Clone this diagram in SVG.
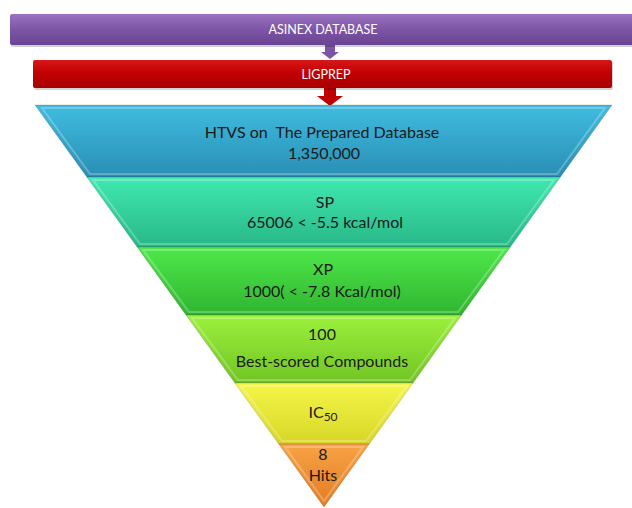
<svg xmlns="http://www.w3.org/2000/svg" width="632" height="508" viewBox="0 0 632 508">
<defs>
<linearGradient id="gPurple" x1="0" y1="0" x2="0" y2="1"><stop offset="0" stop-color="#9a72c0"/><stop offset="0.5" stop-color="#7d55a6"/><stop offset="1" stop-color="#6a4392"/></linearGradient>
<linearGradient id="gRed" x1="0" y1="0" x2="0" y2="1"><stop offset="0" stop-color="#d81818"/><stop offset="0.5" stop-color="#c00000"/><stop offset="1" stop-color="#a80000"/></linearGradient>
<linearGradient id="gBlue" x1="0" y1="0" x2="0" y2="1"><stop offset="0" stop-color="#3fbce0"/><stop offset="1" stop-color="#2a8eb4"/></linearGradient>
<linearGradient id="gTeal" x1="0" y1="0" x2="0" y2="1"><stop offset="0" stop-color="#40e8b0"/><stop offset="1" stop-color="#28b888"/></linearGradient>
<linearGradient id="gGreen" x1="0" y1="0" x2="0" y2="1"><stop offset="0" stop-color="#4ee84a"/><stop offset="1" stop-color="#30b530"/></linearGradient>
<linearGradient id="gLime" x1="0" y1="0" x2="0" y2="1"><stop offset="0" stop-color="#9cf03c"/><stop offset="1" stop-color="#72c424"/></linearGradient>
<linearGradient id="gYellow" x1="0" y1="0" x2="0" y2="1"><stop offset="0" stop-color="#f6f64a"/><stop offset="1" stop-color="#d6d626"/></linearGradient>
<linearGradient id="gOrange" x1="0" y1="0" x2="0" y2="1"><stop offset="0" stop-color="#f8a246"/><stop offset="1" stop-color="#e27c22"/></linearGradient>
</defs>
<style>
.lbl{font-family:Lato,"Liberation Sans",sans-serif;font-size:16px;fill:#1a1a1a;text-anchor:middle;white-space:pre}
.wlbl{font-family:Lato,"Liberation Sans",sans-serif;font-size:12.5px;fill:#ffffff;text-anchor:middle}
.bevel{fill:none;stroke:#ffffff;stroke-opacity:0.25;stroke-width:2}
.edge{stroke:#000000;stroke-opacity:0.15;stroke-width:1}
</style>
<rect width="632" height="508" fill="#ffffff"/>
<g id="connectors">
<path d="M325,45 L335,45 L335,52 L339,52 L330,59 L321,52 L325,52 Z" fill="#7d55a6"/>
<path d="M324,88 L336,88 L336,96 L343,96 L330,106 L317,96 L324,96 Z" fill="#c00000"/>
</g>
<g id="asinex">
<rect x="11" y="16" width="630" height="31" rx="2" fill="#000" fill-opacity="0.18"/>
<rect x="10" y="14" width="630" height="31" rx="2" fill="url(#gPurple)"/>
<text class="wlbl" x="323" y="34">ASINEX DATABASE</text>
</g>
<g id="ligprep">
<rect x="34" y="62" width="579" height="28" rx="2" fill="#000" fill-opacity="0.18"/>
<rect x="33" y="60" width="579" height="28" rx="2" fill="url(#gRed)"/>
<text class="wlbl" x="326" y="79">LIGPREP</text>
</g>
<g id="htvs">
<polygon class="edge" points="35,105 612,105 560.4,177 86.8,177" fill="url(#gBlue)"/>
<polygon class="bevel" points="42,108 605,108 557,174 90,174"/>
<text class="lbl" x="322" y="138" xml:space="preserve">HTVS on  The Prepared Database</text>
<text class="lbl" x="324" y="159">1,350,000</text>
</g>
<g id="sp">
<polygon class="edge" points="86.8,177 560.4,177 510.3,247 137.1,247" fill="url(#gTeal)"/>
<polygon class="bevel" points="93,180 554,180 507,244 140,244"/>
<text class="lbl" x="325" y="208">SP</text>
<text class="lbl" x="325" y="228">65006 &lt; -5.5 kcal/mol</text>
</g>
<g id="xp">
<polygon class="edge" points="137.1,247 510.3,247 461.6,315 186,315" fill="url(#gGreen)"/>
<polygon class="bevel" points="143,250 504,250 458,312 189,312"/>
<text class="lbl" x="323" y="275">XP</text>
<text class="lbl" x="322" y="297">1000( &lt; -7.8 Kcal/mol)</text>
</g>
<g id="best">
<polygon class="edge" points="186,315 461.6,315 413,383 234.9,383" fill="url(#gLime)"/>
<polygon class="bevel" points="192,318 455,318 410,380 238,380"/>
<text class="lbl" x="322" y="340">100</text>
<text class="lbl" x="322" y="367">Best-scored Compounds</text>
</g>
<g id="ic50">
<polygon class="edge" points="234.9,383 413,383 369.3,444 278.7,444" fill="url(#gYellow)"/>
<polygon class="bevel" points="241,386 407,386 366,441 282,441"/>
<text class="lbl" x="323" y="418">IC<tspan font-size="12" dy="3">50</tspan></text>
</g>
<g id="hits">
<polygon class="edge" points="278.7,444 369.3,444 324,507" fill="url(#gOrange)"/>
<polygon class="bevel" points="285,447 363,447 324,501"/>
<text class="lbl" x="323" y="460">8</text>
<text class="lbl" x="323" y="481">Hits</text>
</g>
</svg>
